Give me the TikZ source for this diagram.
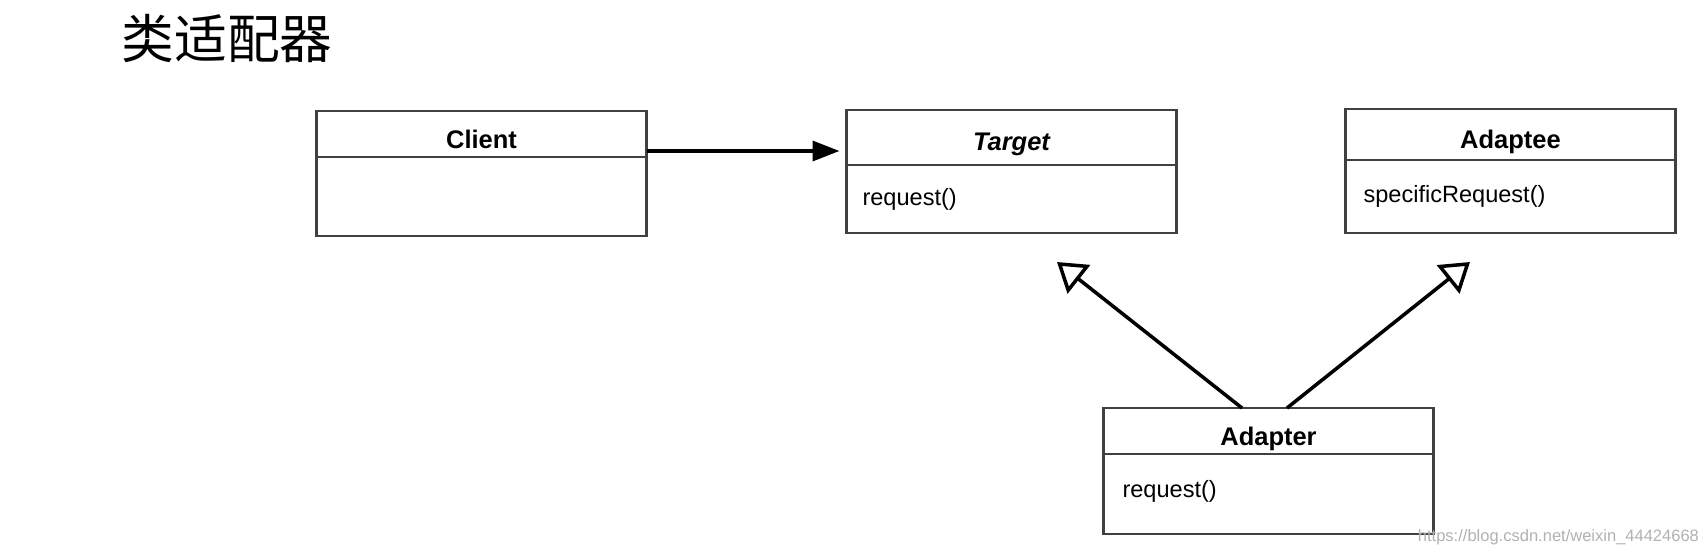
\documentclass[tikz,border=0pt]{standalone}
\usepackage{fontspec}
\setmainfont{Liberation Sans}
\newfontfamily\cjk{Noto Sans CJK SC}
\usetikzlibrary{positioning,arrows.meta}

\begin{document}
\begin{tikzpicture}[line width=0.6pt,
		classhead/.style={draw=black!75,outer sep=0pt,inner sep=0pt,minimum width=3.3cm,minimum height=0.5cm,text height=0.3cm,text depth=0.02cm,font=\fontsize{7.25}{8}\selectfont\bfseries},
		classbody/.style={draw=black!75,outer sep=0pt,inner sep=0pt,minimum width=3.3cm,minimum height=0.75cm},
		optext/.style={anchor=west,inner sep=0pt,font=\fontsize{6.7}{8}\selectfont},
		assoc/.style={line width=1pt,-{Triangle[length=0.27cm,width=0.2cm]}},
		inherit/.style={line width=1pt,-{Triangle[open,length=0.28cm,width=0.36cm]}}]
	\fill[white] (0,0) rectangle (17.08,-5.56);
	\useasboundingbox (0,0) rectangle (17.08,-5.56);
	\node[font=\cjk\fontsize{15}{16}\selectfont] (title) at (2.27,-0.38) {类适配器};
	\node[classhead,minimum height=0.46cm] (clienthead) at (4.815,-1.34) {Client};
	\node[classbody,minimum height=0.79cm,below=0pt of clienthead] (clientbody) {};
	\node[classhead,minimum height=0.55cm,text height=0.27cm] (targethead) at (10.115,-1.375) {\itshape Target};
	\node[classbody,minimum height=0.68cm,below=0pt of targethead] (targetbody) {};
	\node[classhead,minimum height=0.51cm] (adapteehead) at (15.105,-1.345) {Adaptee};
	\node[classbody,minimum height=0.73cm,below=0pt of adapteehead] (adapteebody) {};
	\node[classhead,minimum height=0.46cm] (adapterhead) at (12.685,-4.31) {Adapter};
	\node[classbody,minimum height=0.80cm,below=0pt of adapterhead] (adapterbody) {};
	\node[optext] (targetop) at ([xshift=0.15cm,yshift=-0.34cm]targetbody.north west) {request()};
	\node[optext] (adapteeop) at ([xshift=0.17cm,yshift=-0.36cm]adapteebody.north west) {specificRequest()};
	\node[optext] (adapterop) at ([xshift=0.18cm,yshift=-0.37cm]adapterbody.north west) {request()};
	\node[anchor=east,inner sep=0pt,text=black!30,font=\fontsize{4.7}{5}\selectfont] (mark) at (17.0,-5.37) {https://blog.csdn.net/weixin\_44424668};
	\coordinate (targettip) at ([xshift=0.455cm,yshift=-0.29cm]targetbody.south);
	\coordinate (adapteetip) at ([xshift=-0.405cm,yshift=-0.29cm]adapteebody.south);
	\draw[assoc,shorten >=0.07cm] ([yshift=-0.17cm]clienthead.east) -- ([yshift=-0.17cm]clienthead.east -| targethead.west);
	\draw[inherit] ([xshift=-0.265cm]adapterhead.north) -- (targettip);
	\draw[inherit] ([xshift=0.185cm]adapterhead.north) -- (adapteetip);
\end{tikzpicture}
\end{document}
